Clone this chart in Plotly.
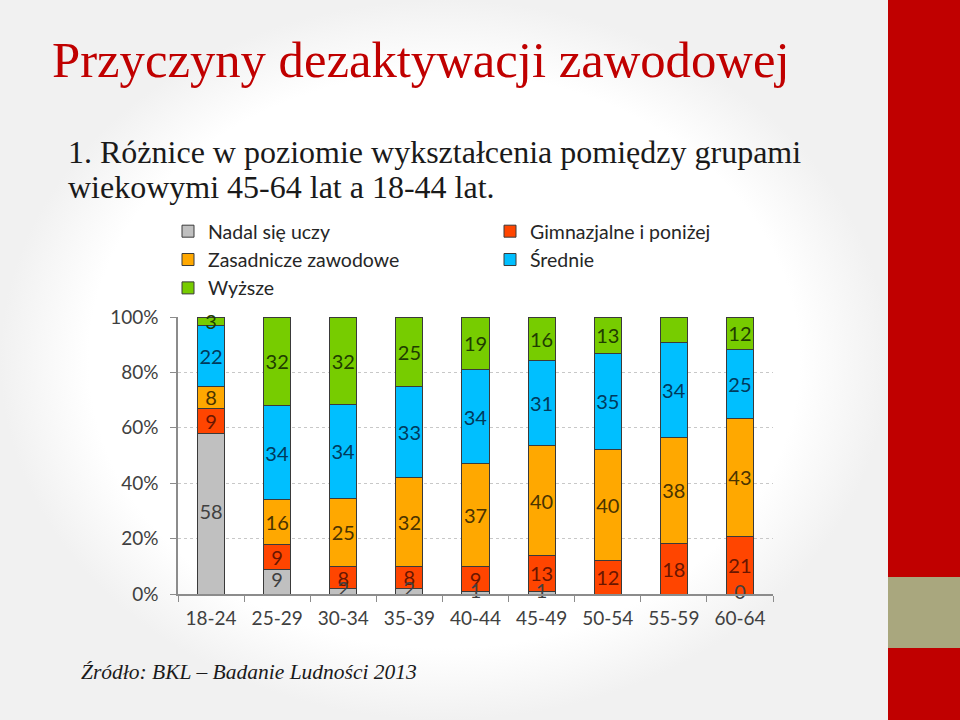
import plotly.graph_objects as go

W, H = 960, 720

categories = ["18-24", "25-29", "30-34", "35-39", "40-44", "45-49", "50-54", "55-59", "60-64"]
nadal = [58, 9, 2, 2, 1, 1, 0, 0, 0]
gimnazjalne = [9, 9, 8, 8, 9, 13, 12, 18, 21]
zasadnicze = [8, 16, 25, 32, 37, 40, 40, 38, 43]
srednie = [22, 34, 34, 33, 34, 31, 35, 34, 25]
wyzsze = [3, 32, 32, 25, 19, 16, 13, 9, 12]
nadal_labels = ["58", "9", "2", "2", "1", "1", "", "", "0"]

series = [
    ("Nadal się uczy", nadal, "#C0C0C0", "#404040", "legend"),
    ("Gimnazjalne i poniżej", gimnazjalne, "#FF4500", "#6A1600", "legend2"),
    ("Zasadnicze zawodowe", zasadnicze, "#FFA800", "#4A3300", "legend"),
    ("Średnie", srednie, "#00BFFF", "#003A5C", "legend2"),
    ("Wyższe", wyzsze, "#77CC00", "#1F3D00", "legend"),
]

fig = go.Figure()

# soft slide background (vignette) on a full-page helper axis
fig.add_trace(go.Scatter(
    x=[0, 888, 888, 0, 0], y=[0, 0, 720, 720, 0], mode="lines", fill="toself",
    line=dict(width=0), hoverinfo="skip", showlegend=False,
    fillgradient=dict(type="radial", colorscale=[[0, "#FFFFFF"], [0.8, "#FFFFFF"], [1, "#F1F1F1"]]),
    xaxis="x", yaxis="y"))

CHART_FONT = "Lato, 'Open Sans', sans-serif"

for name, vals, col, tcol, lg in series:
    is_grey = name == "Nadal się uczy"
    fig.add_trace(go.Bar(
        x=categories, y=vals, name=name,
        marker=dict(color=col, line=dict(color="#3A3A3A", width=1)),
        text=None if is_grey else [str(v) for v in vals],
        textposition="none" if is_grey else "inside", insidetextanchor="middle",
        textangle=0,
        textfont=dict(family=CHART_FONT, size=20, color=tcol),
        constraintext="none", cliponaxis=False,
        legend=lg, xaxis="x2", yaxis="y2"))

# labels of the bottom (grey) segment, placed at the middle of the normalised segment
totals = [a + b + c + d + e for a, b, c, d, e in zip(nadal, gimnazjalne, zasadnicze, srednie, wyzsze)]
fig.add_trace(go.Scatter(
    x=categories, y=[v / 2 * 100 / t for v, t in zip(nadal, totals)],
    text=nadal_labels, mode="text", textposition="middle center",
    textfont=dict(family=CHART_FONT, size=20, color="#404040"),
    showlegend=False, hoverinfo="skip", cliponaxis=False,
    xaxis="x2", yaxis="y2"))

x0, x1 = 178, 773
y_top, y_bot = 317, 594

fig.update_layout(
    width=W, height=H, margin=dict(l=0, r=0, t=0, b=0, autoexpand=False),
    paper_bgcolor="#FFFFFF", plot_bgcolor="rgba(0,0,0,0)",
    barmode="stack", barnorm="percent", bargap=0.59,
    uniformtext=dict(mode="show", minsize=20),
    showlegend=True,
    xaxis=dict(domain=[0, 1], range=[0, 960], visible=False, fixedrange=True),
    yaxis=dict(domain=[0, 1], range=[720, 0], visible=False, fixedrange=True),
    xaxis2=dict(domain=[x0 / W, x1 / W], anchor="y2", type="category",
                showline=True, linecolor="#8C8C8C", linewidth=1.5,
                ticks="outside", tickson="boundaries", ticklen=6, tickcolor="#8C8C8C",
                tickfont=dict(family=CHART_FONT, size=19, color="#404040"),
                ticklabelstandoff=6, showgrid=False, zeroline=False),
    yaxis2=dict(domain=[1 - y_bot / H, 1 - y_top / H], anchor="x2", range=[0, 100],
                dtick=20, ticksuffix="%", showline=True, linecolor="#8C8C8C", linewidth=1.5,
                ticks="outside", ticklen=6, tickcolor="#8C8C8C",
                tickfont=dict(family=CHART_FONT, size=19, color="#404040"),
                ticklabelstandoff=8,
                showgrid=True, gridcolor="#C8C8C8", griddash="dot", gridwidth=1,
                zeroline=False),
    legend=dict(x=168 / W, y=1 - 212 / H, xanchor="left", yanchor="top",
                orientation="v", bgcolor="rgba(0,0,0,0)", traceorder="normal",
                font=dict(family=CHART_FONT, size=19.5, color="#262626")),
    legend2=dict(x=490 / W, y=1 - 212 / H, xanchor="left", yanchor="top",
                 orientation="v", bgcolor="rgba(0,0,0,0)", traceorder="normal",
                 font=dict(family=CHART_FONT, size=19.5, color="#262626")),
    shapes=[
        dict(type="rect", xref="paper", yref="paper", x0=888 / W, x1=1, y0=0, y1=1,
             fillcolor="#C00000", line=dict(width=0), layer="above"),
        dict(type="rect", xref="paper", yref="paper", x0=888 / W, x1=1,
             y0=1 - 648 / H, y1=1 - 577 / H,
             fillcolor="#A9A77E", line=dict(width=0), layer="above"),
    ],
    annotations=[
        dict(text="Przyczyny dezaktywacji zawodowej", x=50 / W, y=1 - 60 / H,
             xref="paper", yref="paper", xanchor="left", yanchor="middle", showarrow=False,
             font=dict(family="'Liberation Serif', 'Times New Roman', serif", size=50.7, color="#C00000")),
        dict(text="1. Różnice w poziomie wykształcenia pomiędzy grupami", x=66 / W, y=1 - 152 / H,
             xref="paper", yref="paper", xanchor="left", yanchor="middle", showarrow=False,
             font=dict(family="'Liberation Serif', 'Times New Roman', serif", size=32, color="#1A1A1A")),
        dict(text="wiekowymi 45-64 lat a 18-44 lat.", x=66 / W, y=1 - 187 / H,
             xref="paper", yref="paper", xanchor="left", yanchor="middle", showarrow=False,
             font=dict(family="'Liberation Serif', 'Times New Roman', serif", size=32, color="#1A1A1A")),
        dict(text="<i>Źródło: BKL – Badanie Ludności 2013</i>", x=79 / W, y=1 - 672 / H,
             xref="paper", yref="paper", xanchor="left", yanchor="middle", showarrow=False,
             font=dict(family="'Liberation Serif', 'Times New Roman', serif", size=21.5, color="#1A1A1A")),
    ],
)

fig.write_html("out.html")
